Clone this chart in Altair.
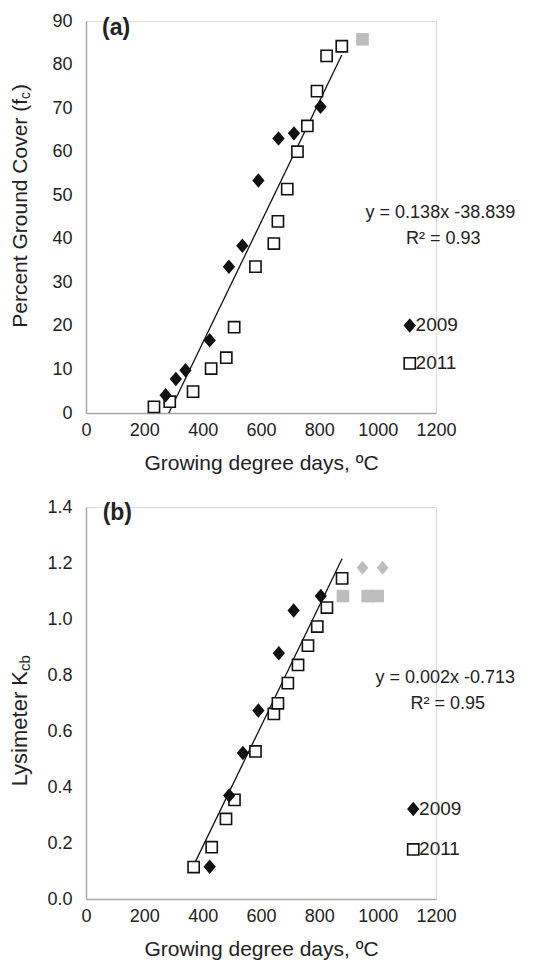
import altair as alt
import pandas as pd

FONT = "Liberation Sans"
TXT = "#222222"
GRAY_PT = "#bdbdbd"
AXIS_GRAY = "#a6a6a6"

# ---------------- data: panel (a) ----------------
a2009_x = [273, 308, 341, 424, 490, 536, 591, 660, 713, 804]
a2009_y = [4.1, 7.8, 9.8, 16.7, 33.6, 38.4, 53.4, 63.0, 64.2, 70.3]
a2011_x = [233, 287, 367, 429, 481, 508, 581, 644, 658, 690, 725, 759, 792, 825, 877]
a2011_y = [1.4, 2.6, 4.9, 10.2, 12.7, 19.7, 33.6, 38.9, 44.0, 51.4, 60.0, 65.9, 73.9, 82.0, 84.2]
a_gray_sq_x = [948]
a_gray_sq_y = [85.8]
a_fit_x = [284, 877]
a_fit_y = [0.0, 82.2]

# ---------------- data: panel (b) ----------------
b2009_x = [424, 491, 538, 591, 661, 712, 805]
b2009_y = [0.115, 0.370, 0.521, 0.673, 0.878, 1.030, 1.082]
b2011_x = [369, 431, 480, 509, 581, 644, 658, 692, 727, 761, 793, 826, 878]
b2011_y = [0.114, 0.185, 0.286, 0.354, 0.527, 0.661, 0.699, 0.771, 0.836, 0.905, 0.973, 1.041, 1.145]
b_gray_dm_x = [948, 1017]
b_gray_dm_y = [1.183, 1.183]
b_gray_sq_x = [881, 966, 1000]
b_gray_sq_y = [1.082, 1.082, 1.082]
b_fit_x = [369, 878]
b_fit_y = [0.12, 1.215]

x_ticks = [0, 200, 400, 600, 800, 1000, 1200]
a_y_ticks = [0, 10, 20, 30, 40, 50, 60, 70, 80, 90]
b_y_ticks = [0.0, 0.2, 0.4, 0.6, 0.8, 1.0, 1.2, 1.4]

years = ["2009", "2011"]
eq_a = ["y = 0.138x -38.839", "R\u00b2 = 0.93"]
eq_b = ["y = 0.002x -0.713", "R\u00b2 = 0.95"]

W = 350
H = 392
DIAMOND = "M-0.85,0L0,-1L0.85,0L0,1Z"


def df(xs, ys):
    return pd.DataFrame({"x": xs, "y": ys})


def panel(p):
    X = alt.X("x:Q", scale=alt.Scale(domain=[0, 1200], nice=False),
              axis=alt.Axis(values=x_ticks, format="d", labelOverlap=False, labelFlush=False,
                            title="Growing degree days, \u00baC",
                            grid=False, ticks=False, tickSize=0, labelPadding=8,
                            titlePadding=13, domainColor=AXIS_GRAY, domainWidth=1.5,
                            labelFont=FONT, labelFontSize=18, labelColor=TXT,
                            titleFont=FONT, titleFontSize=21, titleFontWeight="normal",
                            titleColor=TXT))
    Y = alt.Y("y:Q", scale=alt.Scale(domain=p["ydom"], nice=False),
              axis=alt.Axis(values=p["yticks"], title=None, format=p["fmt"],
                            labelOverlap=False, labelFlush=False,
                            grid=False, ticks=False, tickSize=0, labelPadding=14,
                            domainColor=AXIS_GRAY, domainWidth=1.5,
                            labelFont=FONT, labelFontSize=18, labelColor=TXT))

    layers = []
    layers.append(alt.Chart(df(p["fit_x"], p["fit_y"])).mark_line(
        color="#111111", strokeWidth=1.3).encode(x=X, y=Y))
    layers.append(alt.Chart(df(p["x11"], p["y11"])).mark_point(
        shape="square", filled=False, fill="white", fillOpacity=1, color="#111111",
        strokeWidth=1.6, size=125, opacity=1).encode(x=X, y=Y))
    layers.append(alt.Chart(df(p["x09"], p["y09"])).mark_point(
        shape=DIAMOND, filled=True, color="#111111", size=210, opacity=1).encode(x=X, y=Y))
    if p.get("gsq_x"):
        layers.append(alt.Chart(df(p["gsq_x"], p["gsq_y"])).mark_point(
            shape="square", filled=True, color=GRAY_PT, size=160, opacity=1).encode(x=X, y=Y))
    if p.get("gdm_x"):
        layers.append(alt.Chart(df(p["gdm_x"], p["gdm_y"])).mark_point(
            shape=DIAMOND, filled=True, color=GRAY_PT, size=190, opacity=1).encode(x=X, y=Y))

    # legend
    lg = p["legend"]
    layers.append(alt.Chart(df([lg["mx"]], [lg["y09"]])).mark_point(
        shape=DIAMOND, filled=True, color="#111111", size=210, opacity=1).encode(x=X, y=Y))
    layers.append(alt.Chart(df([lg["mx"]], [lg["y11"]])).mark_point(
        shape="square", filled=False, fill="white", fillOpacity=1, color="#111111",
        strokeWidth=1.6, size=125, opacity=1).encode(x=X, y=Y))
    leg_df = pd.DataFrame({"x": [lg["tx"], lg["tx"]], "y": [lg["y09"], lg["y11"]], "t": years})
    layers.append(alt.Chart(leg_df).mark_text(
        align="left", baseline="middle", font=FONT, fontSize=19, color=TXT).encode(
        x=X, y=Y, text="t:N"))

    # equation
    eq_df = pd.DataFrame({"x": p["eq_x"], "y": p["eq_y"], "t": p["eq"]})
    layers.append(alt.Chart(eq_df).mark_text(
        align="center", baseline="middle", font=FONT, fontSize=18, color=TXT).encode(
        x=X, y=Y, text="t:N"))

    # panel label
    lab_df = pd.DataFrame({"x": [p["lab_x"]], "y": [p["lab_y"]], "t": [p["label"]]})
    layers.append(alt.Chart(lab_df).mark_text(
        align="left", baseline="middle", font=FONT, fontSize=23, fontWeight="bold",
        color=TXT).encode(x=X, y=Y, text="t:N"))

    # y title pieces (main text + subscript)
    one = pd.DataFrame({"t": [0]})
    for (txt, yy, dx, fs, al) in p["ytitle"]:
        layers.append(alt.Chart(one).mark_text(
            text=txt, angle=270, align=al, baseline="alphabetic", font=FONT,
            fontSize=fs, color=TXT).encode(
            x=alt.value(-59 + dx), y=alt.value(yy)))

    return alt.layer(*layers).properties(width=W, height=H)


pa = dict(
    ydom=[0, 90], yticks=a_y_ticks, fmt="d",
    x09=a2009_x, y09=a2009_y, x11=a2011_x, y11=a2011_y,
    gsq_x=a_gray_sq_x, gsq_y=a_gray_sq_y,
    fit_x=a_fit_x, fit_y=a_fit_y,
    legend=dict(mx=1110, tx=1130, y09=20.1, y11=11.4),
    eq=eq_a, eq_x=[1215, 1225], eq_y=[46.0, 40.0],
    label="(a)", lab_x=55, lab_y=88.5,
    ytitle=[("Percent Ground Cover (f", 78, 0, 21, "right"),
            ("c", 78, 3, 14, "left"),
            (")", 70, 0, 21, "left")],
)

pb = dict(
    ydom=[0, 1.4], yticks=b_y_ticks, fmt=".1f",
    x09=b2009_x, y09=b2009_y, x11=b2011_x, y11=b2011_y,
    gsq_x=b_gray_sq_x, gsq_y=b_gray_sq_y,
    gdm_x=b_gray_dm_x, gdm_y=b_gray_dm_y,
    fit_x=b_fit_x, fit_y=b_fit_y,
    legend=dict(mx=1122, tx=1142, y09=0.321, y11=0.177),
    eq=eq_b, eq_x=[1232, 1240], eq_y=[0.788, 0.695],
    label="(b)", lab_x=57, lab_y=1.379,
    ytitle=[("Lysimeter K", 164, 0, 22, "right"),
            ("cb", 164, 3, 15, "left")],
)

chart = alt.vconcat(panel(pa), panel(pb), spacing=23).properties(
    padding={"left": 0, "top": 3, "right": 5, "bottom": 0}
).configure_view(stroke=None).configure(background="white")

chart.save("out.html", embed_options={"renderer": "svg", "actions": False})
